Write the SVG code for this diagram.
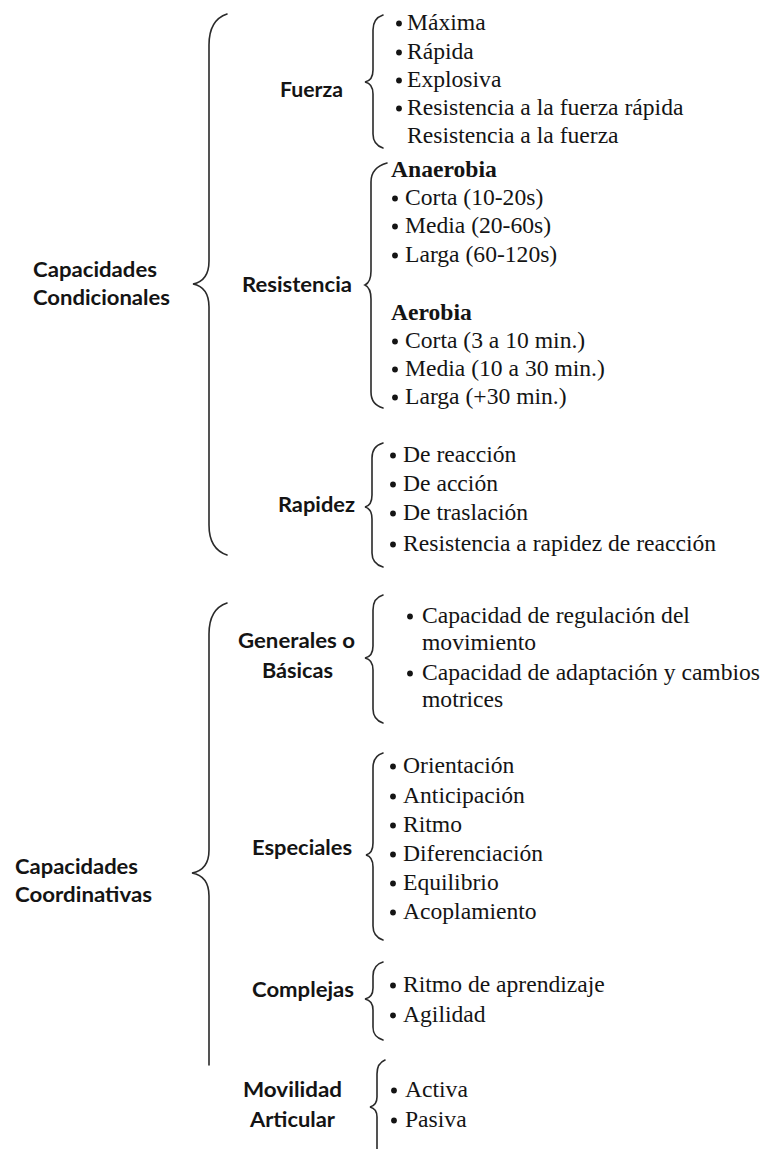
<svg xmlns="http://www.w3.org/2000/svg" xmlns:xlink="http://www.w3.org/1999/xlink" width="765" height="1149" viewBox="0 0 765 1149">
<style>
.lbl{font-family:Lato,"Open Sans","Liberation Sans",sans-serif;font-weight:700;font-size:21px;fill:#141414}
.it{font-family:"Liberation Serif","Times New Roman",serif;font-size:23.6px;fill:#141414}
.hd{font-family:"Liberation Serif","Times New Roman",serif;font-size:23.6px;font-weight:700;fill:#141414}
.br{fill:none;stroke:#2a2a2a;stroke-width:1.6;stroke-linecap:round}
.bul{fill:#141414}
</style>
<defs><circle id="b" r="2.9" class="bul"/></defs>
<rect width="765" height="1149" fill="#fff"/>

<g id="connectors">
<path class="br" d="M227,14 C215,18 209,28 209,45 L209,261 C209,275 203,282 193,284 C203,286 209,293 209,307 L209,525 C209,542 215,551 227,555"/>
<path class="br" d="M227,603 C215,607 209,617 209,634 L209,850 C209,864 203,871 192,873 C203,875 209,882 209,896 L209,1065"/>
<path class="br" d="M383,15 C377,17 373,22 373,30 L373,70 C373,77 370,81 365,82 C370,83 373,87 373,94 L373,134 C373,142 377,146 383,148"/>
<path class="br" d="M387,163 C376,166 371,172 371,182 L371,271 C371,279 369,283 365,285 C369,287 371,291 371,299 L371,392 C371,401 376,406 383,408"/>
<path class="br" d="M383,443 C376,445 372,450 372,458 L372,495 C372,502 369,506 365,507 C369,508 372,512 372,519 L372,553 C372,561 376,565 383,567"/>
<path class="br" d="M383,595 C376,597 373,602 373,610 L373,646 C373,653 370,657 365,658 C370,659 373,663 373,670 L373,709 C373,717 377,721 383,723"/>
<path class="br" d="M383,753 C376,755 373,760 373,768 L373,843 C373,850 370,854 366,855 C370,856 373,860 373,867 L373,926 C373,934 377,938 383,940"/>
<path class="br" d="M383,962 C376,964 373,969 373,976 L373,988 C373,995 370,998 365,999 C370,1000 373,1003 373,1010 L373,1027 C373,1035 377,1038 383,1040"/>
<path class="br" d="M385,1060 C380,1062 377,1067 377,1074 L377,1097 C377,1103 374,1106 370,1107 C374,1108 377,1111 377,1117 L377,1152"/>
</g>

<g id="capacidades-condicionales">
<text class="lbl" x="33" y="277" textLength="124" lengthAdjust="spacingAndGlyphs">Capacidades</text>
<text class="lbl" x="33" y="305" textLength="137" lengthAdjust="spacingAndGlyphs">Condicionales</text>
</g>

<g id="fuerza">
<text class="lbl" x="280" y="97" textLength="63" lengthAdjust="spacingAndGlyphs">Fuerza</text>
<use xlink:href="#b" x="399" y="23.5"/><text class="it" x="407" y="30">Máxima</text>
<use xlink:href="#b" x="399" y="52.5"/><text class="it" x="407" y="59">Rápida</text>
<use xlink:href="#b" x="399" y="80.5"/><text class="it" x="407" y="87">Explosiva</text>
<use xlink:href="#b" x="399" y="108.5"/><text class="it" x="407" y="115">Resistencia a la fuerza rápida</text>
<text class="it" x="407" y="143">Resistencia a la fuerza</text>
</g>

<g id="resistencia">
<text class="lbl" x="242" y="292" textLength="110" lengthAdjust="spacingAndGlyphs">Resistencia</text>
<text class="hd" x="391" y="177">Anaerobia</text>
<use xlink:href="#b" x="395" y="198.5"/><text class="it" x="405" y="205">Corta (10-20s)</text>
<use xlink:href="#b" x="395" y="226.5"/><text class="it" x="405" y="233">Media (20-60s)</text>
<use xlink:href="#b" x="395" y="255.5"/><text class="it" x="405" y="262">Larga (60-120s)</text>
<text class="hd" x="391" y="320">Aerobia</text>
<use xlink:href="#b" x="395" y="341.5"/><text class="it" x="405" y="348">Corta (3 a 10 min.)</text>
<use xlink:href="#b" x="395" y="369.5"/><text class="it" x="405" y="376">Media (10 a 30 min.)</text>
<use xlink:href="#b" x="395" y="397.5"/><text class="it" x="405" y="404">Larga (+30 min.)</text>
</g>

<g id="rapidez">
<text class="lbl" x="278" y="512" textLength="77" lengthAdjust="spacingAndGlyphs">Rapidez</text>
<use xlink:href="#b" x="393" y="455.5"/><text class="it" x="403" y="462">De reacción</text>
<use xlink:href="#b" x="393" y="484.5"/><text class="it" x="403" y="491">De acción</text>
<use xlink:href="#b" x="393" y="513.5"/><text class="it" x="403" y="520">De traslación</text>
<use xlink:href="#b" x="393" y="544.5"/><text class="it" x="403" y="551">Resistencia a rapidez de reacción</text>
</g>

<g id="capacidades-coordinativas">
<text class="lbl" x="15" y="874" textLength="123" lengthAdjust="spacingAndGlyphs">Capacidades</text>
<text class="lbl" x="15" y="902" textLength="137" lengthAdjust="spacingAndGlyphs">Coordinativas</text>
</g>

<g id="generales">
<text class="lbl" x="238" y="648" textLength="117" lengthAdjust="spacingAndGlyphs">Generales o</text>
<text class="lbl" x="262" y="678" textLength="71" lengthAdjust="spacingAndGlyphs">Básicas</text>
<use xlink:href="#b" x="410" y="616.5"/><text class="it" x="422" y="623">Capacidad de regulación del</text>
<text class="it" x="422" y="650">movimiento</text>
<use xlink:href="#b" x="410" y="673.5"/><text class="it" x="422" y="680">Capacidad de adaptación y cambios</text>
<text class="it" x="422" y="707">motrices</text>
</g>

<g id="especiales">
<text class="lbl" x="252" y="855" textLength="100" lengthAdjust="spacingAndGlyphs">Especiales</text>
<use xlink:href="#b" x="393" y="766.5"/><text class="it" x="403" y="773">Orientación</text>
<use xlink:href="#b" x="393" y="796.5"/><text class="it" x="403" y="803">Anticipación</text>
<use xlink:href="#b" x="393" y="825.5"/><text class="it" x="403" y="832">Ritmo</text>
<use xlink:href="#b" x="393" y="854.5"/><text class="it" x="403" y="861">Diferenciación</text>
<use xlink:href="#b" x="393" y="883.5"/><text class="it" x="403" y="890">Equilibrio</text>
<use xlink:href="#b" x="393" y="912.5"/><text class="it" x="403" y="919">Acoplamiento</text>
</g>

<g id="complejas">
<text class="lbl" x="252" y="997" textLength="102" lengthAdjust="spacingAndGlyphs">Complejas</text>
<use xlink:href="#b" x="393" y="985.5"/><text class="it" x="403" y="992">Ritmo de aprendizaje</text>
<use xlink:href="#b" x="393" y="1015.5"/><text class="it" x="403" y="1022">Agilidad</text>
</g>

<g id="movilidad-articular">
<text class="lbl" x="243" y="1097" textLength="99" lengthAdjust="spacingAndGlyphs">Movilidad</text>
<text class="lbl" x="250" y="1127" textLength="85" lengthAdjust="spacingAndGlyphs">Articular</text>
<use xlink:href="#b" x="394" y="1090.5"/><text class="it" x="405" y="1097">Activa</text>
<use xlink:href="#b" x="394" y="1120.5"/><text class="it" x="405" y="1127">Pasiva</text>
</g>
</svg>
